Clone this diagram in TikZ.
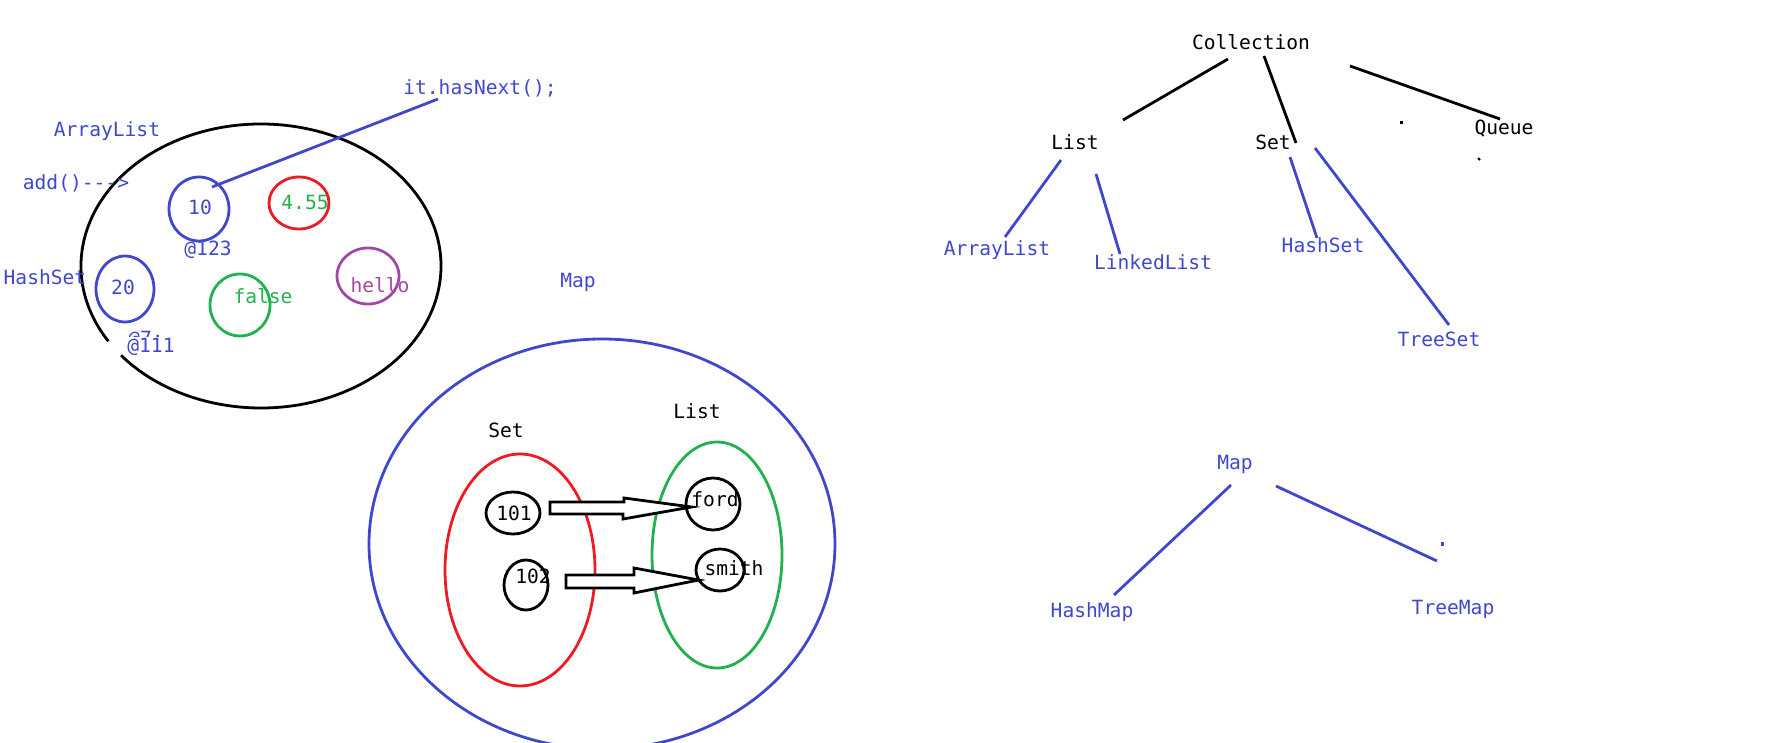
\documentclass[tikz,border=0pt]{standalone}
\usepackage{fontspec}
\setmonofont{DejaVu Sans Mono}
\usetikzlibrary{shapes.geometric,calc}
\definecolor{pblue}{RGB}{63,72,204}
\definecolor{pred}{RGB}{237,28,36}
\definecolor{pgreen}{RGB}{34,177,76}
\definecolor{ppurple}{RGB}{163,73,164}
\tikzset{
  lbl/.style={font=\ttfamily\fontsize{19.6}{22}\selectfont, inner sep=0pt, anchor=center},
  blk/.style={lbl, text=black},
  blu/.style={lbl, text=pblue},
  ring/.style={draw, ellipse, line width=2.8pt, inner sep=0pt},
  stroke/.style={line width=2.8pt},
  barrow/.style={draw=black, fill=white, line width=2.8pt, line join=miter},
}
\begin{document}
\begin{tikzpicture}[x=1pt,y=-1pt]
\useasboundingbox (0,0) rectangle (1771,743);
\clip (0,0) rectangle (1771,743);

% ---------- left: ArrayList / HashSet ellipse ----------
\draw[stroke, black] ([shift={(148:180 and 142)}]261,266) arc[start angle=148, end angle=501, x radius=180, y radius=142];

\node[blu] (al1) at (107,131) {ArrayList};
\node[blu] (add) at (76,183) {add()--->};
\node[blu] (hn) at (480,88) {it.hasNext();};
\node[blu] (hs1) at (45,277) {HashSet};

\node[ring, draw=pblue, minimum width=60, minimum height=64] (c10) at (199,209) {};
\node[blu] (t10) at (200,207) {10};
\node[blu] (a123) at (208,250) {@123};

\node[ring, draw=pred, minimum width=60, minimum height=52] (c455) at (299,203) {};
\node[lbl, text=pgreen] (t455) at (305,202) {4.55};

\node[ring, draw=pblue, minimum width=58, minimum height=66] (c20) at (125,289) {};
\node[blu] (t20) at (123,287) {20};

\node[ring, draw=pgreen, minimum width=60, minimum height=62] (cfalse) at (240,305) {};
\node[lbl, text=pgreen] (tfalse) at (263,296) {false};

\node[ring, draw=ppurple, minimum width=62, minimum height=56] (chello) at (368,276) {};
\node[lbl, text=ppurple] (thello) at (380,285) {hello};

\node[blu] (a7) at (146,340) {@7:};
\node[blu, fill=white, inner sep=1pt] (a111) at (151,347) {@111};

\draw[stroke, pblue] ($(hn)+(-42,11)$) -- ($(c10)+(13,-22)$);

% ---------- Map ellipse ----------
\node[blu] (mapl) at (578,282) {Map};
\draw[stroke, pblue] (602,544) ellipse[x radius=233, y radius=205];

\node[blk] (setl) at (506,430) {Set};
\node[blk] (listl) at (697,411) {List};

\draw[stroke, pred] (520,570) ellipse[x radius=75, y radius=116];
\draw[stroke, pgreen] (717,555) ellipse[x radius=65, y radius=113];

\node[ring, draw=black, minimum width=54, minimum height=42] (c101) at (513,513) {};
\node[blk] (t101) at (514,513) {101};
\node[ring, draw=black, minimum width=44, minimum height=50] (c102) at (526,585) {};
\node[blk] (t102) at (533,576) {102};
\node[ring, draw=black, minimum width=54, minimum height=52] (cford) at (713,504) {};
\node[blk] (tford) at (715,499) {ford};
\node[ring, draw=black, minimum width=48, minimum height=42] (csmith) at (720,570) {};
\node[blk] (tsmith) at (734,568) {smith};

% block arrows
\draw[barrow] ($(c101)+(37,-11)$) -- ++(74,0) -- ++(0,-4) -- ($(cford.west)+(7,3)$)
  -- ($(c101)+(110,6)$) -- ++(0,-5) -- ($(c101)+(37,1)$) -- cycle;
\draw[barrow] ($(c102)+(40,-10)$) -- ++(68,0) -- ++(0,-7) -- ($(csmith.west)+(4,10)$)
  -- ($(c102)+(108,8)$) -- ++(0,-5) -- ($(c102)+(40,3)$) -- cycle;

% ---------- right: Collection tree ----------
\node[blk] (coll) at (1251,42) {Collection};
\node[blk] (list) at (1075,142) {List};
\node[blk] (set) at (1273,142) {Set};
\node[blk] (queue) at (1504,129) {Queue};

\draw[stroke, black] ($(coll)+(-23,17)$) -- ($(list)+(48,-22)$);
\draw[stroke, black] ($(coll)+(13,14)$) -- ($(set)+(23,1)$);
\draw[stroke, black] ($(coll)+(99,24)$) -- ($(queue)+(-4,-10)$);
\fill[black] (1400,121) rectangle (1403,124);
\draw[black, line width=2pt] ($(queue)+(-26,29)$) -- ($(queue)+(-24,31)$);

\node[blu] (al2) at (997,250) {ArrayList};
\node[blu] (ll) at (1153,262) {LinkedList};
\node[blu] (hs2) at (1323,245) {HashSet};
\node[blu] (ts) at (1439,339) {TreeSet};

\draw[stroke, pblue] ($(list)+(-14,18)$) -- ($(al2)+(8,-13)$);
\draw[stroke, pblue] ($(list)+(21,32)$) -- ($(ll)+(-33,-8)$);
\draw[stroke, pblue] ($(set)+(17,15)$) -- ($(hs2)+(-6,-7)$);
\draw[stroke, pblue] ($(set)+(42,6)$) -- ($(ts)+(10,-14)$);

% ---------- Map tree ----------
\node[blu] (map2) at (1235,464) {Map};
\node[blu] (hm) at (1092,612) {HashMap};
\node[blu] (tm) at (1453,609) {TreeMap};
\draw[stroke, pblue] ($(map2)+(-4,21)$) -- ($(hm)+(22,-17)$);
\draw[stroke, pblue] ($(map2)+(41,22)$) -- ($(tm)+(-16,-48)$);
\fill[pblue] (1441,542) rectangle (1444,546);
\end{tikzpicture}
\end{document}
